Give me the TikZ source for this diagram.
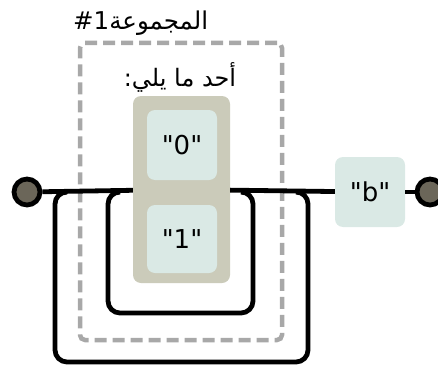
\documentclass[tikz,border=0pt]{standalone}
\usepackage{fontspec}
\setmainfont{DejaVu Sans}
\newfontfamily\arabicfont[Script=Arabic]{DejaVu Sans}
\TeXXeTstate=1
\definecolor{GrisCaja}{RGB}{203, 203, 186}
\definecolor{AzulClaro}{RGB}{218, 233, 229}
\definecolor{Cafe}{RGB}{107, 102, 89}
\definecolor{GrisRaya}{RGB}{168, 168, 168}
\newcommand{\comillas}[1]{\textquotedbl#1\textquotedbl}

\begin{document}
\begin{tikzpicture}[x=1pt,y=-1pt,
    linea/.style={line width=4.8pt},
    terminal/.style={circle, draw, line width=4.8pt, fill=Cafe, minimum size=26pt, inner sep=0pt},
    literal/.style={rounded corners=8pt, fill=AzulClaro, minimum width=70pt, minimum height=70pt, inner sep=0pt, font=\fontsize{26}{30}\selectfont},
    caja/.style={rounded corners=8pt, fill=GrisCaja, minimum width=97pt, minimum height=187pt},
    grupo/.style={rounded corners=5pt, draw=GrisRaya, dash pattern=on 12pt off 6pt, line width=4.5pt, minimum width=202pt, minimum height=297pt},
    etiqueta/.style={inner sep=0pt, font=\fontsize{24}{28}\selectfont}]
            \useasboundingbox (0,0) rectangle (438,369);
            %Grupo 1
            \node[grupo] (G) at (181,191.5) {};
            \node[etiqueta, anchor=west, font=\fontsize{24.5}{28}\selectfont] (Gl) at (73,23) {\arabicfont\beginR المجموعة\beginL\#1\endL\endR};
            \node[etiqueta] (Ol) at (180,77) {\arabicfont\beginR أحد ما يلي:\endR};
            %Terminales y cajas
            \node[terminal] (S) at (27,192) {};
            \node[terminal] (E) at (430,192) {};
            \node[caja] (C) at (181.5,189.5) {};
            \node[literal] (A) at (182,145) {\comillas{0}};
            \node[literal, minimum height=68pt] (B) at (182,239) {\comillas{1}};
            \node[literal] (L) at (370,192) {\comillas{b}};
            \draw[linea](S)--(C);
            \draw[linea](C)--(L);
            \draw[linea](L)--(E);
            %Ciclos
            \coordinate (I1) at (241,192);
            \coordinate (I2) at (120,192);
            \coordinate (O1) at (296,192);
            \coordinate (O2) at (67,192);
            \draw[linea, rounded corners=12pt](I1)--(253,192)--(253,313)--(108,313)--(108,192)--(I2);
            \draw[linea, rounded corners=12pt](O1)--(308,192)--(308,362)--(55,362)--(55,192)--(O2);
\end{tikzpicture}
\end{document}
